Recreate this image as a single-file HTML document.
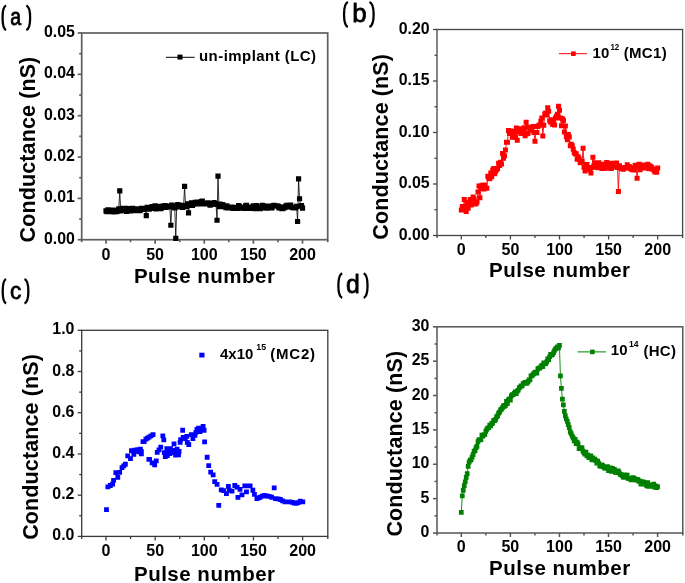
<!DOCTYPE html>
<html><head><meta charset="utf-8"><style>
html,body{margin:0;padding:0;background:#fff;}
body{width:685px;height:583px;overflow:hidden;}
svg{display:block;will-change:transform;}
text{font-family:"Liberation Sans", sans-serif;}
</style></head><body>
<svg width="685" height="583" viewBox="0 0 685 583" font-family='"Liberation Sans", sans-serif'>
<rect width="685" height="583" fill="#fff"/>
<path d="M6.10 5.50C1.37 7.39 1.37 28.11 6.10 30.00" fill="none" stroke="#000" stroke-width="2.3"/>
<text transform="translate(10.14,24.79) scale(0.803,1)" font-size="24.37" font-weight="normal" text-anchor="start" stroke="#000" stroke-width="0.75" stroke-linejoin="round" vector-effect="non-scaling-stroke">a</text>
<path d="M26.30 5.50C31.43 7.39 31.43 28.11 26.30 30.00" fill="none" stroke="#000" stroke-width="2.3"/>
<path d="M347.90 2.00C342.77 3.93 342.77 24.97 347.90 26.90" fill="none" stroke="#000" stroke-width="2.3"/>
<text transform="translate(352.21,21.57) scale(0.978,1)" font-size="26.49" font-weight="normal" text-anchor="start" stroke="#000" stroke-width="0.75" stroke-linejoin="round" vector-effect="non-scaling-stroke">b</text>
<path d="M369.40 2.00C375.07 3.93 375.07 24.97 369.40 26.90" fill="none" stroke="#000" stroke-width="2.3"/>
<path d="M6.10 279.00C1.57 280.89 1.57 301.61 6.10 303.50" fill="none" stroke="#000" stroke-width="2.3"/>
<text transform="translate(10.11,298.58) scale(0.914,1)" font-size="24.73" font-weight="normal" text-anchor="start" stroke="#000" stroke-width="0.75" stroke-linejoin="round" vector-effect="non-scaling-stroke">c</text>
<path d="M24.50 279.00C29.63 280.89 29.63 301.61 24.50 303.50" fill="none" stroke="#000" stroke-width="2.3"/>
<path d="M342.20 273.30C337.07 275.19 337.07 295.91 342.20 297.80" fill="none" stroke="#000" stroke-width="2.3"/>
<text transform="translate(345.93,292.87) scale(0.946,1)" font-size="26.21" font-weight="normal" text-anchor="start" stroke="#000" stroke-width="0.75" stroke-linejoin="round" vector-effect="non-scaling-stroke">d</text>
<path d="M363.70 273.30C368.83 275.19 368.83 295.91 363.70 297.80" fill="none" stroke="#000" stroke-width="2.3"/>
<g stroke="#5e5e5e" stroke-width="1.7" fill="none" stroke-linecap="butt">
<rect x="81.70" y="33.00" width="246.00" height="206.70"/>
<line x1="81.70" y1="239.70" x2="81.70" y2="242.20"/>
<line x1="106.00" y1="239.70" x2="106.00" y2="243.70"/>
<line x1="130.56" y1="239.70" x2="130.56" y2="242.20"/>
<line x1="155.12" y1="239.70" x2="155.12" y2="243.70"/>
<line x1="179.69" y1="239.70" x2="179.69" y2="242.20"/>
<line x1="204.25" y1="239.70" x2="204.25" y2="243.70"/>
<line x1="228.81" y1="239.70" x2="228.81" y2="242.20"/>
<line x1="253.38" y1="239.70" x2="253.38" y2="243.70"/>
<line x1="277.94" y1="239.70" x2="277.94" y2="242.20"/>
<line x1="302.50" y1="239.70" x2="302.50" y2="243.70"/>
<line x1="327.70" y1="239.70" x2="327.70" y2="242.20"/>
<line x1="81.70" y1="239.70" x2="77.70" y2="239.70"/>
<line x1="81.70" y1="198.36" x2="77.70" y2="198.36"/>
<line x1="81.70" y1="157.02" x2="77.70" y2="157.02"/>
<line x1="81.70" y1="115.68" x2="77.70" y2="115.68"/>
<line x1="81.70" y1="74.34" x2="77.70" y2="74.34"/>
<line x1="81.70" y1="33.00" x2="77.70" y2="33.00"/>
<line x1="81.70" y1="219.03" x2="79.20" y2="219.03"/>
<line x1="81.70" y1="177.69" x2="79.20" y2="177.69"/>
<line x1="81.70" y1="136.35" x2="79.20" y2="136.35"/>
<line x1="81.70" y1="95.01" x2="79.20" y2="95.01"/>
<line x1="81.70" y1="53.67" x2="79.20" y2="53.67"/>
</g>
<text transform="translate(106.00,259.50) scale(1.035,1.035)" font-size="15.5" font-weight="bold" text-anchor="middle">0</text>
<text transform="translate(155.12,259.50) scale(1.035,1.035)" font-size="15.5" font-weight="bold" text-anchor="middle">50</text>
<text transform="translate(204.25,259.50) scale(1.035,1.035)" font-size="15.5" font-weight="bold" text-anchor="middle">100</text>
<text transform="translate(253.38,259.50) scale(1.035,1.035)" font-size="15.5" font-weight="bold" text-anchor="middle">150</text>
<text transform="translate(302.50,259.50) scale(1.035,1.035)" font-size="15.5" font-weight="bold" text-anchor="middle">200</text>
<text transform="translate(74.80,243.70) scale(1.025,1.035)" font-size="15.5" font-weight="bold" text-anchor="end">0.00</text>
<text transform="translate(74.80,202.36) scale(1.025,1.035)" font-size="15.5" font-weight="bold" text-anchor="end">0.01</text>
<text transform="translate(74.80,161.02) scale(1.025,1.035)" font-size="15.5" font-weight="bold" text-anchor="end">0.02</text>
<text transform="translate(74.80,119.68) scale(1.025,1.035)" font-size="15.5" font-weight="bold" text-anchor="end">0.03</text>
<text transform="translate(74.80,78.34) scale(1.025,1.035)" font-size="15.5" font-weight="bold" text-anchor="end">0.04</text>
<text transform="translate(74.80,37.00) scale(1.025,1.035)" font-size="15.5" font-weight="bold" text-anchor="end">0.05</text>
<text transform="translate(204.70,283.20)" font-size="20.5" font-weight="bold" text-anchor="middle" letter-spacing="0.5">Pulse number</text>
<text transform="translate(34.70,149.50) rotate(-90) scale(1.05,1.08)" font-size="20.5" font-weight="bold" text-anchor="middle" letter-spacing="0.1">Conductance (nS)</text>
<g stroke="#444" stroke-width="1.3" fill="none" stroke-linecap="butt">
<rect x="437.00" y="29.50" width="245.60" height="206.00"/>
<line x1="437.00" y1="235.50" x2="437.00" y2="238.00"/>
<line x1="461.30" y1="235.50" x2="461.30" y2="239.50"/>
<line x1="485.85" y1="235.50" x2="485.85" y2="238.00"/>
<line x1="510.40" y1="235.50" x2="510.40" y2="239.50"/>
<line x1="534.95" y1="235.50" x2="534.95" y2="238.00"/>
<line x1="559.50" y1="235.50" x2="559.50" y2="239.50"/>
<line x1="584.05" y1="235.50" x2="584.05" y2="238.00"/>
<line x1="608.60" y1="235.50" x2="608.60" y2="239.50"/>
<line x1="633.15" y1="235.50" x2="633.15" y2="238.00"/>
<line x1="657.70" y1="235.50" x2="657.70" y2="239.50"/>
<line x1="682.60" y1="235.50" x2="682.60" y2="238.00"/>
<line x1="437.00" y1="235.50" x2="433.00" y2="235.50"/>
<line x1="437.00" y1="184.00" x2="433.00" y2="184.00"/>
<line x1="437.00" y1="132.50" x2="433.00" y2="132.50"/>
<line x1="437.00" y1="81.00" x2="433.00" y2="81.00"/>
<line x1="437.00" y1="29.50" x2="433.00" y2="29.50"/>
<line x1="437.00" y1="209.75" x2="434.50" y2="209.75"/>
<line x1="437.00" y1="158.25" x2="434.50" y2="158.25"/>
<line x1="437.00" y1="106.75" x2="434.50" y2="106.75"/>
<line x1="437.00" y1="55.25" x2="434.50" y2="55.25"/>
</g>
<text transform="translate(461.30,255.20) scale(1.035,1.035)" font-size="15.5" font-weight="bold" text-anchor="middle">0</text>
<text transform="translate(510.40,255.20) scale(1.035,1.035)" font-size="15.5" font-weight="bold" text-anchor="middle">50</text>
<text transform="translate(559.50,255.20) scale(1.035,1.035)" font-size="15.5" font-weight="bold" text-anchor="middle">100</text>
<text transform="translate(608.60,255.20) scale(1.035,1.035)" font-size="15.5" font-weight="bold" text-anchor="middle">150</text>
<text transform="translate(657.70,255.20) scale(1.035,1.035)" font-size="15.5" font-weight="bold" text-anchor="middle">200</text>
<text transform="translate(429.60,239.50) scale(1.025,1.035)" font-size="15.5" font-weight="bold" text-anchor="end">0.00</text>
<text transform="translate(429.60,188.00) scale(1.025,1.035)" font-size="15.5" font-weight="bold" text-anchor="end">0.05</text>
<text transform="translate(429.60,136.50) scale(1.025,1.035)" font-size="15.5" font-weight="bold" text-anchor="end">0.10</text>
<text transform="translate(429.60,85.00) scale(1.025,1.035)" font-size="15.5" font-weight="bold" text-anchor="end">0.15</text>
<text transform="translate(429.60,33.50) scale(1.025,1.035)" font-size="15.5" font-weight="bold" text-anchor="end">0.20</text>
<text transform="translate(559.80,276.60)" font-size="20.5" font-weight="bold" text-anchor="middle" letter-spacing="0.5">Pulse number</text>
<text transform="translate(387.60,146.80) rotate(-90) scale(1.05,1.08)" font-size="20.5" font-weight="bold" text-anchor="middle" letter-spacing="0.1">Conductance (nS)</text>
<g stroke="#3a3a3a" stroke-width="1.3" fill="none" stroke-linecap="butt">
<rect x="81.70" y="330.30" width="246.10" height="206.10"/>
<line x1="81.70" y1="536.40" x2="81.70" y2="538.90"/>
<line x1="106.00" y1="536.40" x2="106.00" y2="540.40"/>
<line x1="130.57" y1="536.40" x2="130.57" y2="538.90"/>
<line x1="155.15" y1="536.40" x2="155.15" y2="540.40"/>
<line x1="179.73" y1="536.40" x2="179.73" y2="538.90"/>
<line x1="204.30" y1="536.40" x2="204.30" y2="540.40"/>
<line x1="228.88" y1="536.40" x2="228.88" y2="538.90"/>
<line x1="253.45" y1="536.40" x2="253.45" y2="540.40"/>
<line x1="278.03" y1="536.40" x2="278.03" y2="538.90"/>
<line x1="302.60" y1="536.40" x2="302.60" y2="540.40"/>
<line x1="327.80" y1="536.40" x2="327.80" y2="538.90"/>
<line x1="81.70" y1="536.40" x2="77.70" y2="536.40"/>
<line x1="81.70" y1="495.18" x2="77.70" y2="495.18"/>
<line x1="81.70" y1="453.96" x2="77.70" y2="453.96"/>
<line x1="81.70" y1="412.74" x2="77.70" y2="412.74"/>
<line x1="81.70" y1="371.52" x2="77.70" y2="371.52"/>
<line x1="81.70" y1="330.30" x2="77.70" y2="330.30"/>
<line x1="81.70" y1="515.79" x2="79.20" y2="515.79"/>
<line x1="81.70" y1="474.57" x2="79.20" y2="474.57"/>
<line x1="81.70" y1="433.35" x2="79.20" y2="433.35"/>
<line x1="81.70" y1="392.13" x2="79.20" y2="392.13"/>
<line x1="81.70" y1="350.91" x2="79.20" y2="350.91"/>
</g>
<text transform="translate(106.00,555.60) scale(1.035,1.035)" font-size="15.5" font-weight="bold" text-anchor="middle">0</text>
<text transform="translate(155.15,555.60) scale(1.035,1.035)" font-size="15.5" font-weight="bold" text-anchor="middle">50</text>
<text transform="translate(204.30,555.60) scale(1.035,1.035)" font-size="15.5" font-weight="bold" text-anchor="middle">100</text>
<text transform="translate(253.45,555.60) scale(1.035,1.035)" font-size="15.5" font-weight="bold" text-anchor="middle">150</text>
<text transform="translate(302.60,555.60) scale(1.035,1.035)" font-size="15.5" font-weight="bold" text-anchor="middle">200</text>
<text transform="translate(74.40,540.40) scale(1.025,1.035)" font-size="15.5" font-weight="bold" text-anchor="end">0.0</text>
<text transform="translate(74.40,499.18) scale(1.025,1.035)" font-size="15.5" font-weight="bold" text-anchor="end">0.2</text>
<text transform="translate(74.40,457.96) scale(1.025,1.035)" font-size="15.5" font-weight="bold" text-anchor="end">0.4</text>
<text transform="translate(74.40,416.74) scale(1.025,1.035)" font-size="15.5" font-weight="bold" text-anchor="end">0.6</text>
<text transform="translate(74.40,375.52) scale(1.025,1.035)" font-size="15.5" font-weight="bold" text-anchor="end">0.8</text>
<text transform="translate(74.40,334.30) scale(1.025,1.035)" font-size="15.5" font-weight="bold" text-anchor="end">1.0</text>
<text transform="translate(204.75,581.00)" font-size="20.5" font-weight="bold" text-anchor="middle" letter-spacing="0.5">Pulse number</text>
<text transform="translate(37.50,446.90) rotate(-90) scale(1.05,1.08)" font-size="20.5" font-weight="bold" text-anchor="middle" letter-spacing="0.1">Conductance (nS)</text>
<g stroke="#555" stroke-width="1.5" fill="none" stroke-linecap="butt">
<rect x="437.00" y="326.80" width="245.80" height="206.20"/>
<line x1="437.00" y1="533.00" x2="437.00" y2="535.50"/>
<line x1="461.30" y1="533.00" x2="461.30" y2="537.00"/>
<line x1="485.84" y1="533.00" x2="485.84" y2="535.50"/>
<line x1="510.38" y1="533.00" x2="510.38" y2="537.00"/>
<line x1="534.91" y1="533.00" x2="534.91" y2="535.50"/>
<line x1="559.45" y1="533.00" x2="559.45" y2="537.00"/>
<line x1="583.99" y1="533.00" x2="583.99" y2="535.50"/>
<line x1="608.52" y1="533.00" x2="608.52" y2="537.00"/>
<line x1="633.06" y1="533.00" x2="633.06" y2="535.50"/>
<line x1="657.60" y1="533.00" x2="657.60" y2="537.00"/>
<line x1="682.80" y1="533.00" x2="682.80" y2="535.50"/>
<line x1="437.00" y1="533.00" x2="433.00" y2="533.00"/>
<line x1="437.00" y1="498.63" x2="433.00" y2="498.63"/>
<line x1="437.00" y1="464.27" x2="433.00" y2="464.27"/>
<line x1="437.00" y1="429.90" x2="433.00" y2="429.90"/>
<line x1="437.00" y1="395.53" x2="433.00" y2="395.53"/>
<line x1="437.00" y1="361.17" x2="433.00" y2="361.17"/>
<line x1="437.00" y1="326.80" x2="433.00" y2="326.80"/>
<line x1="437.00" y1="515.82" x2="434.50" y2="515.82"/>
<line x1="437.00" y1="481.45" x2="434.50" y2="481.45"/>
<line x1="437.00" y1="447.08" x2="434.50" y2="447.08"/>
<line x1="437.00" y1="412.72" x2="434.50" y2="412.72"/>
<line x1="437.00" y1="378.35" x2="434.50" y2="378.35"/>
<line x1="437.00" y1="343.98" x2="434.50" y2="343.98"/>
</g>
<text transform="translate(461.30,552.30) scale(1.035,1.035)" font-size="15.5" font-weight="bold" text-anchor="middle">0</text>
<text transform="translate(510.38,552.30) scale(1.035,1.035)" font-size="15.5" font-weight="bold" text-anchor="middle">50</text>
<text transform="translate(559.45,552.30) scale(1.035,1.035)" font-size="15.5" font-weight="bold" text-anchor="middle">100</text>
<text transform="translate(608.52,552.30) scale(1.035,1.035)" font-size="15.5" font-weight="bold" text-anchor="middle">150</text>
<text transform="translate(657.60,552.30) scale(1.035,1.035)" font-size="15.5" font-weight="bold" text-anchor="middle">200</text>
<text transform="translate(429.30,537.00) scale(1.025,1.035)" font-size="15.5" font-weight="bold" text-anchor="end">0</text>
<text transform="translate(429.30,502.63) scale(1.025,1.035)" font-size="15.5" font-weight="bold" text-anchor="end">5</text>
<text transform="translate(429.30,468.27) scale(1.025,1.035)" font-size="15.5" font-weight="bold" text-anchor="end">10</text>
<text transform="translate(429.30,433.90) scale(1.025,1.035)" font-size="15.5" font-weight="bold" text-anchor="end">15</text>
<text transform="translate(429.30,399.53) scale(1.025,1.035)" font-size="15.5" font-weight="bold" text-anchor="end">20</text>
<text transform="translate(429.30,365.17) scale(1.025,1.035)" font-size="15.5" font-weight="bold" text-anchor="end">25</text>
<text transform="translate(429.30,330.80) scale(1.025,1.035)" font-size="15.5" font-weight="bold" text-anchor="end">30</text>
<text transform="translate(559.90,575.30)" font-size="20.5" font-weight="bold" text-anchor="middle" letter-spacing="0.5">Pulse number</text>
<text transform="translate(402.40,443.70) rotate(-90) scale(1.05,1.08)" font-size="20.5" font-weight="bold" text-anchor="middle" letter-spacing="0.1">Conductance (nS)</text>
<polyline points="106.00,210.96 106.98,211.54 107.97,209.78 108.95,211.77 109.93,210.14 110.91,210.71 111.89,211.76 112.88,210.18 113.86,211.79 114.84,210.39 115.83,211.64 116.81,211.54 117.79,210.36 118.77,208.94 119.75,190.92 120.74,211.00 121.72,209.58 122.70,208.44 123.69,209.71 124.67,210.31 125.65,208.28 126.63,211.45 127.61,208.57 128.60,210.48 129.58,210.92 130.56,210.95 131.55,210.23 132.53,208.40 133.51,210.55 134.49,209.09 135.47,208.83 136.46,209.70 137.44,209.03 138.42,210.65 139.41,210.60 140.39,210.03 141.37,208.32 142.35,209.13 143.34,209.46 144.32,208.46 145.30,208.86 146.28,215.72 147.26,207.45 148.25,207.67 149.23,209.14 150.21,207.89 151.19,207.95 152.18,206.62 153.16,207.02 154.14,208.44 155.12,205.93 156.11,208.81 157.09,207.66 158.07,206.37 159.06,208.36 160.04,207.08 161.02,208.60 162.00,206.37 162.99,206.00 163.97,206.62 164.95,205.53 165.93,207.44 166.91,206.07 167.90,206.38 168.88,206.39 169.86,206.78 170.84,225.23 171.83,205.00 172.81,206.59 173.79,205.89 174.78,207.95 175.76,238.46 176.74,205.83 177.72,204.58 178.70,205.14 179.69,206.96 180.67,206.45 181.65,205.30 182.63,207.38 183.62,205.69 184.60,186.37 185.58,206.55 186.56,206.59 187.55,203.96 188.53,212.83 189.51,205.44 190.50,204.77 191.48,202.94 192.46,205.52 193.44,204.08 194.43,203.56 195.41,202.28 196.39,202.38 197.37,202.10 198.36,204.01 199.34,203.41 200.32,203.48 201.30,201.53 202.28,201.15 203.27,203.83 204.25,203.62 205.23,203.58 206.22,203.73 207.20,203.01 208.18,202.80 209.16,204.09 210.14,205.15 211.13,203.86 212.11,204.19 213.09,203.71 214.07,202.57 215.06,203.69 216.04,204.51 217.02,220.27 218.00,176.04 218.99,206.73 219.97,204.00 220.95,204.62 221.94,204.50 222.92,204.97 223.90,206.59 224.88,206.61 225.87,207.67 226.85,205.87 227.83,207.90 228.81,207.92 229.80,207.47 230.78,207.68 231.76,207.10 232.74,208.14 233.72,208.36 234.71,207.88 235.69,208.09 236.67,207.23 237.66,208.44 238.64,205.53 239.62,206.48 240.60,208.14 241.59,207.82 242.57,207.53 243.55,207.51 244.53,208.35 245.51,205.83 246.50,205.33 247.48,207.16 248.46,207.10 249.44,208.48 250.43,208.42 251.41,207.59 252.39,207.86 253.38,205.90 254.36,208.22 255.34,208.70 256.32,205.48 257.31,206.94 258.29,208.27 259.27,206.89 260.25,208.68 261.24,206.94 262.22,205.38 263.20,205.78 264.18,206.36 265.16,207.87 266.15,207.50 267.13,208.20 268.11,206.10 269.10,206.93 270.08,206.07 271.06,207.63 272.04,208.00 273.02,205.96 274.01,205.34 274.99,205.79 275.97,205.94 276.96,205.88 277.94,206.14 278.92,207.91 279.90,206.88 280.88,207.43 281.87,208.55 282.85,208.54 283.83,207.66 284.81,207.71 285.80,206.19 286.78,205.26 287.76,207.02 288.75,205.30 289.73,205.11 290.71,205.21 291.69,207.25 292.68,207.74 293.66,207.70 294.64,207.79 295.62,207.75 296.61,206.28 297.59,221.51 298.57,178.93 299.55,198.77 300.53,206.12 301.52,205.60 302.50,208.07" fill="none" stroke="#000" stroke-width="0.8"/>
<path fill="#000" d="M103.40 208.36h5.2v5.2h-5.2zM104.38 208.94h5.2v5.2h-5.2zM105.37 207.18h5.2v5.2h-5.2zM106.35 209.17h5.2v5.2h-5.2zM107.33 207.54h5.2v5.2h-5.2zM108.31 208.11h5.2v5.2h-5.2zM109.30 209.16h5.2v5.2h-5.2zM110.28 207.58h5.2v5.2h-5.2zM111.26 209.19h5.2v5.2h-5.2zM112.24 207.79h5.2v5.2h-5.2zM113.23 209.04h5.2v5.2h-5.2zM114.21 208.94h5.2v5.2h-5.2zM115.19 207.76h5.2v5.2h-5.2zM116.17 206.34h5.2v5.2h-5.2zM117.16 188.32h5.2v5.2h-5.2zM118.14 208.40h5.2v5.2h-5.2zM119.12 206.98h5.2v5.2h-5.2zM120.10 205.84h5.2v5.2h-5.2zM121.09 207.11h5.2v5.2h-5.2zM122.07 207.71h5.2v5.2h-5.2zM123.05 205.68h5.2v5.2h-5.2zM124.03 208.85h5.2v5.2h-5.2zM125.02 205.97h5.2v5.2h-5.2zM126.00 207.88h5.2v5.2h-5.2zM126.98 208.32h5.2v5.2h-5.2zM127.96 208.35h5.2v5.2h-5.2zM128.95 207.63h5.2v5.2h-5.2zM129.93 205.80h5.2v5.2h-5.2zM130.91 207.95h5.2v5.2h-5.2zM131.89 206.49h5.2v5.2h-5.2zM132.88 206.23h5.2v5.2h-5.2zM133.86 207.10h5.2v5.2h-5.2zM134.84 206.43h5.2v5.2h-5.2zM135.82 208.05h5.2v5.2h-5.2zM136.81 208.00h5.2v5.2h-5.2zM137.79 207.43h5.2v5.2h-5.2zM138.77 205.72h5.2v5.2h-5.2zM139.75 206.53h5.2v5.2h-5.2zM140.74 206.86h5.2v5.2h-5.2zM141.72 205.86h5.2v5.2h-5.2zM142.70 206.26h5.2v5.2h-5.2zM143.68 213.12h5.2v5.2h-5.2zM144.66 204.85h5.2v5.2h-5.2zM145.65 205.07h5.2v5.2h-5.2zM146.63 206.54h5.2v5.2h-5.2zM147.61 205.29h5.2v5.2h-5.2zM148.59 205.35h5.2v5.2h-5.2zM149.58 204.02h5.2v5.2h-5.2zM150.56 204.42h5.2v5.2h-5.2zM151.54 205.84h5.2v5.2h-5.2zM152.53 203.33h5.2v5.2h-5.2zM153.51 206.21h5.2v5.2h-5.2zM154.49 205.06h5.2v5.2h-5.2zM155.47 203.77h5.2v5.2h-5.2zM156.46 205.76h5.2v5.2h-5.2zM157.44 204.48h5.2v5.2h-5.2zM158.42 206.00h5.2v5.2h-5.2zM159.40 203.77h5.2v5.2h-5.2zM160.39 203.40h5.2v5.2h-5.2zM161.37 204.02h5.2v5.2h-5.2zM162.35 202.93h5.2v5.2h-5.2zM163.33 204.84h5.2v5.2h-5.2zM164.31 203.47h5.2v5.2h-5.2zM165.30 203.78h5.2v5.2h-5.2zM166.28 203.79h5.2v5.2h-5.2zM167.26 204.18h5.2v5.2h-5.2zM168.25 222.63h5.2v5.2h-5.2zM169.23 202.40h5.2v5.2h-5.2zM170.21 203.99h5.2v5.2h-5.2zM171.19 203.29h5.2v5.2h-5.2zM172.18 205.35h5.2v5.2h-5.2zM173.16 235.86h5.2v5.2h-5.2zM174.14 203.23h5.2v5.2h-5.2zM175.12 201.98h5.2v5.2h-5.2zM176.10 202.54h5.2v5.2h-5.2zM177.09 204.36h5.2v5.2h-5.2zM178.07 203.85h5.2v5.2h-5.2zM179.05 202.70h5.2v5.2h-5.2zM180.03 204.78h5.2v5.2h-5.2zM181.02 203.09h5.2v5.2h-5.2zM182.00 183.77h5.2v5.2h-5.2zM182.98 203.95h5.2v5.2h-5.2zM183.97 203.99h5.2v5.2h-5.2zM184.95 201.36h5.2v5.2h-5.2zM185.93 210.23h5.2v5.2h-5.2zM186.91 202.84h5.2v5.2h-5.2zM187.90 202.17h5.2v5.2h-5.2zM188.88 200.34h5.2v5.2h-5.2zM189.86 202.92h5.2v5.2h-5.2zM190.84 201.48h5.2v5.2h-5.2zM191.83 200.96h5.2v5.2h-5.2zM192.81 199.68h5.2v5.2h-5.2zM193.79 199.78h5.2v5.2h-5.2zM194.77 199.50h5.2v5.2h-5.2zM195.76 201.41h5.2v5.2h-5.2zM196.74 200.81h5.2v5.2h-5.2zM197.72 200.88h5.2v5.2h-5.2zM198.70 198.93h5.2v5.2h-5.2zM199.69 198.55h5.2v5.2h-5.2zM200.67 201.23h5.2v5.2h-5.2zM201.65 201.02h5.2v5.2h-5.2zM202.63 200.98h5.2v5.2h-5.2zM203.62 201.13h5.2v5.2h-5.2zM204.60 200.41h5.2v5.2h-5.2zM205.58 200.20h5.2v5.2h-5.2zM206.56 201.49h5.2v5.2h-5.2zM207.54 202.55h5.2v5.2h-5.2zM208.53 201.26h5.2v5.2h-5.2zM209.51 201.59h5.2v5.2h-5.2zM210.49 201.11h5.2v5.2h-5.2zM211.47 199.97h5.2v5.2h-5.2zM212.46 201.09h5.2v5.2h-5.2zM213.44 201.91h5.2v5.2h-5.2zM214.42 217.67h5.2v5.2h-5.2zM215.41 173.44h5.2v5.2h-5.2zM216.39 204.13h5.2v5.2h-5.2zM217.37 201.40h5.2v5.2h-5.2zM218.35 202.02h5.2v5.2h-5.2zM219.34 201.90h5.2v5.2h-5.2zM220.32 202.37h5.2v5.2h-5.2zM221.30 203.99h5.2v5.2h-5.2zM222.28 204.01h5.2v5.2h-5.2zM223.27 205.07h5.2v5.2h-5.2zM224.25 203.27h5.2v5.2h-5.2zM225.23 205.30h5.2v5.2h-5.2zM226.21 205.32h5.2v5.2h-5.2zM227.20 204.87h5.2v5.2h-5.2zM228.18 205.08h5.2v5.2h-5.2zM229.16 204.50h5.2v5.2h-5.2zM230.14 205.54h5.2v5.2h-5.2zM231.12 205.76h5.2v5.2h-5.2zM232.11 205.28h5.2v5.2h-5.2zM233.09 205.49h5.2v5.2h-5.2zM234.07 204.63h5.2v5.2h-5.2zM235.06 205.84h5.2v5.2h-5.2zM236.04 202.93h5.2v5.2h-5.2zM237.02 203.88h5.2v5.2h-5.2zM238.00 205.54h5.2v5.2h-5.2zM238.99 205.22h5.2v5.2h-5.2zM239.97 204.93h5.2v5.2h-5.2zM240.95 204.91h5.2v5.2h-5.2zM241.93 205.75h5.2v5.2h-5.2zM242.91 203.23h5.2v5.2h-5.2zM243.90 202.73h5.2v5.2h-5.2zM244.88 204.56h5.2v5.2h-5.2zM245.86 204.50h5.2v5.2h-5.2zM246.84 205.88h5.2v5.2h-5.2zM247.83 205.82h5.2v5.2h-5.2zM248.81 204.99h5.2v5.2h-5.2zM249.79 205.26h5.2v5.2h-5.2zM250.78 203.30h5.2v5.2h-5.2zM251.76 205.62h5.2v5.2h-5.2zM252.74 206.10h5.2v5.2h-5.2zM253.72 202.88h5.2v5.2h-5.2zM254.71 204.34h5.2v5.2h-5.2zM255.69 205.67h5.2v5.2h-5.2zM256.67 204.29h5.2v5.2h-5.2zM257.65 206.08h5.2v5.2h-5.2zM258.63 204.34h5.2v5.2h-5.2zM259.62 202.78h5.2v5.2h-5.2zM260.60 203.18h5.2v5.2h-5.2zM261.58 203.76h5.2v5.2h-5.2zM262.56 205.27h5.2v5.2h-5.2zM263.55 204.90h5.2v5.2h-5.2zM264.53 205.60h5.2v5.2h-5.2zM265.51 203.50h5.2v5.2h-5.2zM266.50 204.33h5.2v5.2h-5.2zM267.48 203.47h5.2v5.2h-5.2zM268.46 205.03h5.2v5.2h-5.2zM269.44 205.40h5.2v5.2h-5.2zM270.42 203.36h5.2v5.2h-5.2zM271.41 202.74h5.2v5.2h-5.2zM272.39 203.19h5.2v5.2h-5.2zM273.37 203.34h5.2v5.2h-5.2zM274.36 203.28h5.2v5.2h-5.2zM275.34 203.54h5.2v5.2h-5.2zM276.32 205.31h5.2v5.2h-5.2zM277.30 204.28h5.2v5.2h-5.2zM278.28 204.83h5.2v5.2h-5.2zM279.27 205.95h5.2v5.2h-5.2zM280.25 205.94h5.2v5.2h-5.2zM281.23 205.06h5.2v5.2h-5.2zM282.21 205.11h5.2v5.2h-5.2zM283.20 203.59h5.2v5.2h-5.2zM284.18 202.66h5.2v5.2h-5.2zM285.16 204.42h5.2v5.2h-5.2zM286.14 202.70h5.2v5.2h-5.2zM287.13 202.51h5.2v5.2h-5.2zM288.11 202.61h5.2v5.2h-5.2zM289.09 204.65h5.2v5.2h-5.2zM290.07 205.14h5.2v5.2h-5.2zM291.06 205.10h5.2v5.2h-5.2zM292.04 205.19h5.2v5.2h-5.2zM293.02 205.15h5.2v5.2h-5.2zM294.00 203.68h5.2v5.2h-5.2zM294.99 218.91h5.2v5.2h-5.2zM295.97 176.33h5.2v5.2h-5.2zM296.95 196.17h5.2v5.2h-5.2zM297.93 203.52h5.2v5.2h-5.2zM298.92 203.00h5.2v5.2h-5.2zM299.90 205.47h5.2v5.2h-5.2z"/>
<polyline points="461.30,209.99 462.28,206.39 463.26,207.07 464.25,199.45 465.23,208.97 466.21,211.59 467.19,203.90 468.17,208.30 469.16,202.22 470.14,199.40 471.12,205.04 472.10,204.10 473.08,197.04 474.07,198.67 475.05,204.07 476.03,203.68 477.01,201.96 477.99,191.98 478.98,186.06 479.96,197.69 480.94,188.54 481.92,185.15 482.90,187.16 483.89,188.99 484.87,185.10 485.85,188.18 486.83,188.27 487.81,176.19 488.80,178.60 489.78,178.75 490.76,172.91 491.74,176.72 492.72,169.90 493.71,168.56 494.69,173.68 495.67,171.36 496.65,169.45 497.63,168.61 498.62,163.24 499.60,165.51 500.58,162.26 501.56,163.97 502.54,153.60 503.53,158.36 504.51,155.63 505.49,150.10 506.47,142.34 507.45,142.20 508.44,130.60 509.42,133.51 510.40,131.09 511.38,131.19 512.36,137.22 513.35,132.19 514.33,135.26 515.31,137.40 516.29,127.90 517.27,140.23 518.26,131.79 519.24,128.78 520.22,130.80 521.20,133.45 522.18,131.04 523.17,130.50 524.15,127.66 525.13,135.66 526.11,122.20 527.09,133.75 528.08,133.31 529.06,127.29 530.04,130.35 531.02,130.05 532.00,128.02 532.99,126.54 533.97,132.49 534.95,141.25 535.93,132.43 536.91,132.50 537.90,126.59 538.88,125.29 539.86,124.89 540.84,121.17 541.82,117.95 542.81,136.00 543.79,125.29 544.77,114.08 545.75,112.93 546.73,115.05 547.72,107.78 548.70,111.19 549.68,120.87 550.66,122.34 551.64,119.80 552.63,124.47 553.61,122.72 554.59,124.98 555.57,118.12 556.55,116.23 557.54,114.37 558.52,106.13 559.50,110.36 560.48,117.88 561.46,125.78 562.45,118.66 563.43,120.39 564.41,132.07 565.39,126.06 566.37,136.81 567.36,139.86 568.34,134.54 569.32,137.11 570.30,145.81 571.28,144.28 572.27,145.79 573.25,149.27 574.23,152.53 575.21,154.04 576.19,153.70 577.18,159.36 578.16,156.86 579.14,158.64 580.12,162.71 581.10,161.94 582.09,161.30 583.07,148.26 584.05,167.30 585.03,171.02 586.01,164.59 587.00,164.41 587.98,169.83 588.96,168.48 589.94,169.67 590.92,172.98 591.91,167.56 592.89,157.22 593.87,165.97 594.85,162.75 595.83,163.36 596.82,167.05 597.80,167.77 598.78,162.70 599.76,164.99 600.74,164.14 601.73,168.17 602.71,168.38 603.69,164.22 604.67,165.95 605.65,168.28 606.64,162.57 607.62,164.57 608.60,163.47 609.58,168.26 610.56,163.21 611.55,168.47 612.53,163.27 613.51,166.02 614.49,166.83 615.47,165.47 616.46,163.06 617.44,167.45 618.42,191.62 619.40,165.85 620.38,167.80 621.37,168.70 622.35,168.41 623.33,169.20 624.31,168.25 625.29,167.57 626.28,167.67 627.26,164.73 628.24,167.87 629.22,166.54 630.20,168.72 631.19,167.65 632.17,169.87 633.15,168.39 634.13,169.99 635.11,165.31 636.10,166.57 637.08,178.23 638.06,167.17 639.04,164.19 640.02,169.70 641.01,165.06 641.99,167.66 642.97,167.30 643.95,165.11 644.93,168.07 645.92,167.37 646.90,166.23 647.88,164.34 648.86,168.76 649.84,165.74 650.83,166.78 651.81,167.45 652.79,169.18 653.77,169.76 654.75,171.90 655.74,171.61 656.72,172.20 657.70,167.99" fill="none" stroke="#ff0000" stroke-width="0.9"/>
<path fill="#ff0000" d="M458.80 207.49h5v5h-5zM459.78 203.89h5v5h-5zM460.76 204.57h5v5h-5zM461.75 196.95h5v5h-5zM462.73 206.47h5v5h-5zM463.71 209.09h5v5h-5zM464.69 201.40h5v5h-5zM465.67 205.80h5v5h-5zM466.66 199.72h5v5h-5zM467.64 196.90h5v5h-5zM468.62 202.54h5v5h-5zM469.60 201.60h5v5h-5zM470.58 194.54h5v5h-5zM471.57 196.17h5v5h-5zM472.55 201.57h5v5h-5zM473.53 201.18h5v5h-5zM474.51 199.46h5v5h-5zM475.49 189.48h5v5h-5zM476.48 183.56h5v5h-5zM477.46 195.19h5v5h-5zM478.44 186.04h5v5h-5zM479.42 182.65h5v5h-5zM480.40 184.66h5v5h-5zM481.39 186.49h5v5h-5zM482.37 182.60h5v5h-5zM483.35 185.68h5v5h-5zM484.33 185.77h5v5h-5zM485.31 173.69h5v5h-5zM486.30 176.10h5v5h-5zM487.28 176.25h5v5h-5zM488.26 170.41h5v5h-5zM489.24 174.22h5v5h-5zM490.22 167.40h5v5h-5zM491.21 166.06h5v5h-5zM492.19 171.18h5v5h-5zM493.17 168.86h5v5h-5zM494.15 166.95h5v5h-5zM495.13 166.11h5v5h-5zM496.12 160.74h5v5h-5zM497.10 163.01h5v5h-5zM498.08 159.76h5v5h-5zM499.06 161.47h5v5h-5zM500.04 151.10h5v5h-5zM501.03 155.86h5v5h-5zM502.01 153.13h5v5h-5zM502.99 147.60h5v5h-5zM503.97 139.84h5v5h-5zM504.95 139.70h5v5h-5zM505.94 128.10h5v5h-5zM506.92 131.01h5v5h-5zM507.90 128.59h5v5h-5zM508.88 128.69h5v5h-5zM509.86 134.72h5v5h-5zM510.85 129.69h5v5h-5zM511.83 132.76h5v5h-5zM512.81 134.90h5v5h-5zM513.79 125.40h5v5h-5zM514.77 137.73h5v5h-5zM515.76 129.29h5v5h-5zM516.74 126.28h5v5h-5zM517.72 128.30h5v5h-5zM518.70 130.95h5v5h-5zM519.68 128.54h5v5h-5zM520.67 128.00h5v5h-5zM521.65 125.16h5v5h-5zM522.63 133.16h5v5h-5zM523.61 119.70h5v5h-5zM524.59 131.25h5v5h-5zM525.58 130.81h5v5h-5zM526.56 124.79h5v5h-5zM527.54 127.85h5v5h-5zM528.52 127.55h5v5h-5zM529.50 125.52h5v5h-5zM530.49 124.04h5v5h-5zM531.47 129.99h5v5h-5zM532.45 138.75h5v5h-5zM533.43 129.93h5v5h-5zM534.41 130.00h5v5h-5zM535.40 124.09h5v5h-5zM536.38 122.79h5v5h-5zM537.36 122.39h5v5h-5zM538.34 118.67h5v5h-5zM539.32 115.45h5v5h-5zM540.31 133.50h5v5h-5zM541.29 122.79h5v5h-5zM542.27 111.58h5v5h-5zM543.25 110.43h5v5h-5zM544.23 112.55h5v5h-5zM545.22 105.28h5v5h-5zM546.20 108.69h5v5h-5zM547.18 118.37h5v5h-5zM548.16 119.84h5v5h-5zM549.14 117.30h5v5h-5zM550.13 121.97h5v5h-5zM551.11 120.22h5v5h-5zM552.09 122.48h5v5h-5zM553.07 115.62h5v5h-5zM554.05 113.73h5v5h-5zM555.04 111.87h5v5h-5zM556.02 103.63h5v5h-5zM557.00 107.86h5v5h-5zM557.98 115.38h5v5h-5zM558.96 123.28h5v5h-5zM559.95 116.16h5v5h-5zM560.93 117.89h5v5h-5zM561.91 129.57h5v5h-5zM562.89 123.56h5v5h-5zM563.87 134.31h5v5h-5zM564.86 137.36h5v5h-5zM565.84 132.04h5v5h-5zM566.82 134.61h5v5h-5zM567.80 143.31h5v5h-5zM568.78 141.78h5v5h-5zM569.77 143.29h5v5h-5zM570.75 146.77h5v5h-5zM571.73 150.03h5v5h-5zM572.71 151.54h5v5h-5zM573.69 151.20h5v5h-5zM574.68 156.86h5v5h-5zM575.66 154.36h5v5h-5zM576.64 156.14h5v5h-5zM577.62 160.21h5v5h-5zM578.60 159.44h5v5h-5zM579.59 158.80h5v5h-5zM580.57 145.76h5v5h-5zM581.55 164.80h5v5h-5zM582.53 168.52h5v5h-5zM583.51 162.09h5v5h-5zM584.50 161.91h5v5h-5zM585.48 167.33h5v5h-5zM586.46 165.98h5v5h-5zM587.44 167.17h5v5h-5zM588.42 170.48h5v5h-5zM589.41 165.06h5v5h-5zM590.39 154.72h5v5h-5zM591.37 163.47h5v5h-5zM592.35 160.25h5v5h-5zM593.33 160.86h5v5h-5zM594.32 164.55h5v5h-5zM595.30 165.27h5v5h-5zM596.28 160.20h5v5h-5zM597.26 162.49h5v5h-5zM598.24 161.64h5v5h-5zM599.23 165.67h5v5h-5zM600.21 165.88h5v5h-5zM601.19 161.72h5v5h-5zM602.17 163.45h5v5h-5zM603.15 165.78h5v5h-5zM604.14 160.07h5v5h-5zM605.12 162.07h5v5h-5zM606.10 160.97h5v5h-5zM607.08 165.76h5v5h-5zM608.06 160.71h5v5h-5zM609.05 165.97h5v5h-5zM610.03 160.77h5v5h-5zM611.01 163.52h5v5h-5zM611.99 164.33h5v5h-5zM612.97 162.97h5v5h-5zM613.96 160.56h5v5h-5zM614.94 164.95h5v5h-5zM615.92 189.12h5v5h-5zM616.90 163.35h5v5h-5zM617.88 165.30h5v5h-5zM618.87 166.20h5v5h-5zM619.85 165.91h5v5h-5zM620.83 166.70h5v5h-5zM621.81 165.75h5v5h-5zM622.79 165.07h5v5h-5zM623.78 165.17h5v5h-5zM624.76 162.23h5v5h-5zM625.74 165.37h5v5h-5zM626.72 164.04h5v5h-5zM627.70 166.22h5v5h-5zM628.69 165.15h5v5h-5zM629.67 167.37h5v5h-5zM630.65 165.89h5v5h-5zM631.63 167.49h5v5h-5zM632.61 162.81h5v5h-5zM633.60 164.07h5v5h-5zM634.58 175.73h5v5h-5zM635.56 164.67h5v5h-5zM636.54 161.69h5v5h-5zM637.52 167.20h5v5h-5zM638.51 162.56h5v5h-5zM639.49 165.16h5v5h-5zM640.47 164.80h5v5h-5zM641.45 162.61h5v5h-5zM642.43 165.57h5v5h-5zM643.42 164.87h5v5h-5zM644.40 163.73h5v5h-5zM645.38 161.84h5v5h-5zM646.36 166.26h5v5h-5zM647.34 163.24h5v5h-5zM648.33 164.28h5v5h-5zM649.31 164.95h5v5h-5zM650.29 166.68h5v5h-5zM651.27 167.26h5v5h-5zM652.25 169.40h5v5h-5zM653.24 169.11h5v5h-5zM654.22 169.70h5v5h-5zM655.20 165.49h5v5h-5z"/>
<path fill="#0000ff" d="M104.09 507.21h4.8v4.8h-4.8zM105.47 484.54h4.8v4.8h-4.8zM107.93 483.09h4.8v4.8h-4.8zM110.19 481.65h4.8v4.8h-4.8zM111.17 477.94h4.8v4.8h-4.8zM113.43 470.32h4.8v4.8h-4.8zM115.40 475.06h4.8v4.8h-4.8zM117.26 469.90h4.8v4.8h-4.8zM119.62 465.16h4.8v4.8h-4.8zM121.29 463.51h4.8v4.8h-4.8zM122.97 461.87h4.8v4.8h-4.8zM125.32 453.41h4.8v4.8h-4.8zM128.08 456.30h4.8v4.8h-4.8zM129.06 448.26h4.8v4.8h-4.8zM130.63 448.67h4.8v4.8h-4.8zM131.42 451.97h4.8v4.8h-4.8zM132.30 447.85h4.8v4.8h-4.8zM133.78 448.47h4.8v4.8h-4.8zM135.15 447.23h4.8v4.8h-4.8zM136.53 449.50h4.8v4.8h-4.8zM138.00 446.82h4.8v4.8h-4.8zM138.99 451.56h4.8v4.8h-4.8zM138.99 449.29h4.8v4.8h-4.8zM140.56 439.19h4.8v4.8h-4.8zM141.74 439.19h4.8v4.8h-4.8zM143.51 436.72h4.8v4.8h-4.8zM145.08 435.69h4.8v4.8h-4.8zM146.66 434.66h4.8v4.8h-4.8zM148.62 433.42h4.8v4.8h-4.8zM150.69 432.19h4.8v4.8h-4.8zM146.46 456.92h4.8v4.8h-4.8zM147.15 456.92h4.8v4.8h-4.8zM149.70 460.42h4.8v4.8h-4.8zM152.26 462.48h4.8v4.8h-4.8zM153.83 458.57h4.8v4.8h-4.8zM154.81 449.91h4.8v4.8h-4.8zM156.58 447.44h4.8v4.8h-4.8zM158.35 444.76h4.8v4.8h-4.8zM160.42 433.42h4.8v4.8h-4.8zM161.40 437.55h4.8v4.8h-4.8zM161.89 450.32h4.8v4.8h-4.8zM162.87 454.24h4.8v4.8h-4.8zM164.45 446.20h4.8v4.8h-4.8zM164.94 453.21h4.8v4.8h-4.8zM166.22 449.50h4.8v4.8h-4.8zM167.50 451.15h4.8v4.8h-4.8zM168.08 446.20h4.8v4.8h-4.8zM170.05 448.06h4.8v4.8h-4.8zM171.62 441.46h4.8v4.8h-4.8zM172.12 450.32h4.8v4.8h-4.8zM173.20 452.59h4.8v4.8h-4.8zM174.67 446.82h4.8v4.8h-4.8zM176.15 452.38h4.8v4.8h-4.8zM176.64 449.09h4.8v4.8h-4.8zM177.72 440.02h4.8v4.8h-4.8zM178.21 437.13h4.8v4.8h-4.8zM180.27 427.86h4.8v4.8h-4.8zM180.77 435.07h4.8v4.8h-4.8zM182.83 436.10h4.8v4.8h-4.8zM184.40 434.04h4.8v4.8h-4.8zM184.89 440.02h4.8v4.8h-4.8zM186.37 442.08h4.8v4.8h-4.8zM188.92 432.19h4.8v4.8h-4.8zM190.50 436.10h4.8v4.8h-4.8zM192.56 433.01h4.8v4.8h-4.8zM193.54 429.92h4.8v4.8h-4.8zM194.53 427.03h4.8v4.8h-4.8zM196.20 425.80h4.8v4.8h-4.8zM197.57 429.10h4.8v4.8h-4.8zM199.15 425.80h4.8v4.8h-4.8zM200.72 423.94h4.8v4.8h-4.8zM201.70 427.86h4.8v4.8h-4.8zM202.19 439.40h4.8v4.8h-4.8zM204.75 454.86h4.8v4.8h-4.8zM206.32 463.31h4.8v4.8h-4.8zM208.29 469.70h4.8v4.8h-4.8zM210.75 472.38h4.8v4.8h-4.8zM212.32 479.18h4.8v4.8h-4.8zM214.68 482.06h4.8v4.8h-4.8zM216.35 502.88h4.8v4.8h-4.8zM218.81 487.42h4.8v4.8h-4.8zM221.17 488.25h4.8v4.8h-4.8zM224.02 491.13h4.8v4.8h-4.8zM225.98 483.92h4.8v4.8h-4.8zM226.77 487.83h4.8v4.8h-4.8zM229.62 488.66h4.8v4.8h-4.8zM232.37 483.09h4.8v4.8h-4.8zM234.73 484.74h4.8v4.8h-4.8zM235.52 495.05h4.8v4.8h-4.8zM237.58 487.01h4.8v4.8h-4.8zM239.55 492.57h4.8v4.8h-4.8zM242.40 483.51h4.8v4.8h-4.8zM244.07 489.48h4.8v4.8h-4.8zM245.64 483.51h4.8v4.8h-4.8zM247.71 483.51h4.8v4.8h-4.8zM250.46 487.83h4.8v4.8h-4.8zM252.03 491.96h4.8v4.8h-4.8zM254.49 496.28h4.8v4.8h-4.8zM256.46 495.46h4.8v4.8h-4.8zM257.83 494.63h4.8v4.8h-4.8zM259.90 493.81h4.8v4.8h-4.8zM261.86 492.99h4.8v4.8h-4.8zM264.32 493.60h4.8v4.8h-4.8zM266.68 494.02h4.8v4.8h-4.8zM269.24 494.84h4.8v4.8h-4.8zM271.79 485.57h4.8v4.8h-4.8zM273.07 496.28h4.8v4.8h-4.8zM275.63 496.49h4.8v4.8h-4.8zM277.89 497.11h4.8v4.8h-4.8zM280.25 498.55h4.8v4.8h-4.8zM282.60 499.38h4.8v4.8h-4.8zM284.96 499.38h4.8v4.8h-4.8zM287.42 499.38h4.8v4.8h-4.8zM289.88 499.99h4.8v4.8h-4.8zM291.84 500.61h4.8v4.8h-4.8zM293.81 501.02h4.8v4.8h-4.8zM295.78 500.20h4.8v4.8h-4.8zM297.84 498.76h4.8v4.8h-4.8zM299.22 499.38h4.8v4.8h-4.8zM300.40 499.38h4.8v4.8h-4.8z"/>
<polyline points="461.30,512.38 462.28,495.88 463.26,490.39 464.24,485.57 465.23,481.77 466.21,477.34 467.19,473.54 468.17,466.30 469.15,462.05 470.13,460.40 471.12,459.53 472.10,457.22 473.08,454.54 474.06,451.37 475.04,450.70 476.02,447.58 477.00,446.41 477.99,441.60 478.97,439.64 479.95,439.86 480.93,439.58 481.91,435.08 482.89,436.26 483.87,434.54 484.86,434.48 485.84,431.38 486.82,429.47 487.80,427.83 488.78,427.77 489.76,425.21 490.75,425.96 491.73,423.59 492.71,423.00 493.69,420.42 494.67,420.59 495.65,419.36 496.63,416.89 497.62,415.88 498.60,413.16 499.58,412.12 500.56,409.94 501.54,409.05 502.52,407.54 503.50,405.60 504.49,406.35 505.47,405.34 506.45,401.36 507.43,403.54 508.41,399.90 509.39,398.96 510.38,400.16 511.36,395.90 512.34,394.66 513.32,394.74 514.30,393.30 515.28,391.97 516.26,393.74 517.25,391.15 518.23,390.23 519.21,387.86 520.19,386.98 521.17,385.89 522.15,385.88 523.13,383.60 524.12,383.46 525.10,382.42 526.08,383.32 527.06,383.14 528.04,381.71 529.02,379.77 530.00,379.82 530.99,375.80 531.97,375.94 532.95,374.65 533.93,373.65 534.91,372.42 535.89,372.21 536.88,373.18 537.86,368.87 538.84,368.05 539.82,368.03 540.80,366.86 541.78,365.32 542.76,366.74 543.75,362.94 544.73,363.91 545.71,363.61 546.69,361.79 547.67,358.85 548.65,359.98 549.63,356.74 550.62,354.47 551.60,355.16 552.58,354.32 553.56,352.62 554.54,350.48 555.52,348.84 556.51,348.16 557.49,346.75 558.47,347.79 559.45,345.44 560.43,375.93 561.41,388.34 562.39,399.09 563.38,404.88 564.36,411.29 565.34,415.90 566.32,419.01 567.30,421.31 568.28,424.71 569.26,427.53 570.25,431.86 571.23,433.68 572.21,436.19 573.19,437.79 574.17,440.84 575.15,439.25 576.14,443.73 577.12,442.13 578.10,443.91 579.08,448.73 580.06,447.94 581.04,447.48 582.02,447.90 583.01,451.07 583.99,452.85 584.97,454.12 585.95,452.12 586.93,455.91 587.91,455.13 588.89,457.70 589.88,456.88 590.86,455.87 591.84,460.01 592.82,457.93 593.80,459.97 594.78,459.17 595.77,460.68 596.75,463.19 597.73,461.00 598.71,463.26 599.69,465.73 600.67,466.38 601.65,464.93 602.64,465.66 603.62,466.83 604.60,468.06 605.58,467.78 606.56,468.46 607.54,466.71 608.52,470.58 609.51,467.91 610.49,467.95 611.47,471.33 612.45,468.42 613.43,469.71 614.41,469.35 615.40,472.28 616.38,472.35 617.36,472.76 618.34,470.75 619.32,472.93 620.30,474.37 621.28,474.58 622.27,475.70 623.25,477.13 624.23,477.33 625.21,474.73 626.19,477.42 627.17,475.16 628.15,478.41 629.14,478.77 630.12,478.18 631.10,479.93 632.08,479.59 633.06,477.61 634.04,478.33 635.03,479.05 636.01,480.22 636.99,479.37 637.97,479.56 638.95,481.49 639.93,481.09 640.91,484.17 641.90,481.66 642.88,483.13 643.86,482.20 644.84,482.95 645.82,484.74 646.80,486.02 647.79,482.71 648.77,486.32 649.75,485.21 650.73,485.97 651.71,486.39 652.69,484.80 653.67,484.06 654.66,487.24 655.64,485.84 656.62,487.54 657.60,486.71" fill="none" stroke="#008000" stroke-width="0.9"/>
<path fill="#008000" d="M458.95 510.03h4.7v4.7h-4.7zM459.93 493.53h4.7v4.7h-4.7zM460.91 488.04h4.7v4.7h-4.7zM461.89 483.22h4.7v4.7h-4.7zM462.88 479.42h4.7v4.7h-4.7zM463.86 474.99h4.7v4.7h-4.7zM464.84 471.19h4.7v4.7h-4.7zM465.82 463.95h4.7v4.7h-4.7zM466.80 459.70h4.7v4.7h-4.7zM467.78 458.05h4.7v4.7h-4.7zM468.76 457.18h4.7v4.7h-4.7zM469.75 454.87h4.7v4.7h-4.7zM470.73 452.19h4.7v4.7h-4.7zM471.71 449.02h4.7v4.7h-4.7zM472.69 448.35h4.7v4.7h-4.7zM473.67 445.23h4.7v4.7h-4.7zM474.65 444.06h4.7v4.7h-4.7zM475.64 439.25h4.7v4.7h-4.7zM476.62 437.29h4.7v4.7h-4.7zM477.60 437.51h4.7v4.7h-4.7zM478.58 437.23h4.7v4.7h-4.7zM479.56 432.73h4.7v4.7h-4.7zM480.54 433.91h4.7v4.7h-4.7zM481.52 432.19h4.7v4.7h-4.7zM482.51 432.13h4.7v4.7h-4.7zM483.49 429.03h4.7v4.7h-4.7zM484.47 427.12h4.7v4.7h-4.7zM485.45 425.48h4.7v4.7h-4.7zM486.43 425.42h4.7v4.7h-4.7zM487.41 422.86h4.7v4.7h-4.7zM488.39 423.61h4.7v4.7h-4.7zM489.38 421.24h4.7v4.7h-4.7zM490.36 420.65h4.7v4.7h-4.7zM491.34 418.07h4.7v4.7h-4.7zM492.32 418.24h4.7v4.7h-4.7zM493.30 417.01h4.7v4.7h-4.7zM494.28 414.54h4.7v4.7h-4.7zM495.27 413.53h4.7v4.7h-4.7zM496.25 410.81h4.7v4.7h-4.7zM497.23 409.77h4.7v4.7h-4.7zM498.21 407.59h4.7v4.7h-4.7zM499.19 406.70h4.7v4.7h-4.7zM500.17 405.19h4.7v4.7h-4.7zM501.15 403.25h4.7v4.7h-4.7zM502.14 404.00h4.7v4.7h-4.7zM503.12 402.99h4.7v4.7h-4.7zM504.10 399.01h4.7v4.7h-4.7zM505.08 401.19h4.7v4.7h-4.7zM506.06 397.55h4.7v4.7h-4.7zM507.04 396.61h4.7v4.7h-4.7zM508.02 397.81h4.7v4.7h-4.7zM509.01 393.55h4.7v4.7h-4.7zM509.99 392.31h4.7v4.7h-4.7zM510.97 392.39h4.7v4.7h-4.7zM511.95 390.95h4.7v4.7h-4.7zM512.93 389.62h4.7v4.7h-4.7zM513.91 391.39h4.7v4.7h-4.7zM514.90 388.80h4.7v4.7h-4.7zM515.88 387.88h4.7v4.7h-4.7zM516.86 385.51h4.7v4.7h-4.7zM517.84 384.63h4.7v4.7h-4.7zM518.82 383.54h4.7v4.7h-4.7zM519.80 383.53h4.7v4.7h-4.7zM520.78 381.25h4.7v4.7h-4.7zM521.77 381.11h4.7v4.7h-4.7zM522.75 380.07h4.7v4.7h-4.7zM523.73 380.97h4.7v4.7h-4.7zM524.71 380.79h4.7v4.7h-4.7zM525.69 379.36h4.7v4.7h-4.7zM526.67 377.42h4.7v4.7h-4.7zM527.65 377.47h4.7v4.7h-4.7zM528.64 373.45h4.7v4.7h-4.7zM529.62 373.59h4.7v4.7h-4.7zM530.60 372.30h4.7v4.7h-4.7zM531.58 371.30h4.7v4.7h-4.7zM532.56 370.07h4.7v4.7h-4.7zM533.54 369.86h4.7v4.7h-4.7zM534.53 370.83h4.7v4.7h-4.7zM535.51 366.52h4.7v4.7h-4.7zM536.49 365.70h4.7v4.7h-4.7zM537.47 365.68h4.7v4.7h-4.7zM538.45 364.51h4.7v4.7h-4.7zM539.43 362.97h4.7v4.7h-4.7zM540.41 364.39h4.7v4.7h-4.7zM541.40 360.59h4.7v4.7h-4.7zM542.38 361.56h4.7v4.7h-4.7zM543.36 361.26h4.7v4.7h-4.7zM544.34 359.44h4.7v4.7h-4.7zM545.32 356.50h4.7v4.7h-4.7zM546.30 357.63h4.7v4.7h-4.7zM547.28 354.39h4.7v4.7h-4.7zM548.27 352.12h4.7v4.7h-4.7zM549.25 352.81h4.7v4.7h-4.7zM550.23 351.97h4.7v4.7h-4.7zM551.21 350.27h4.7v4.7h-4.7zM552.19 348.13h4.7v4.7h-4.7zM553.17 346.49h4.7v4.7h-4.7zM554.16 345.81h4.7v4.7h-4.7zM555.14 344.40h4.7v4.7h-4.7zM556.12 345.44h4.7v4.7h-4.7zM557.10 343.09h4.7v4.7h-4.7zM558.08 373.58h4.7v4.7h-4.7zM559.06 385.99h4.7v4.7h-4.7zM560.04 396.74h4.7v4.7h-4.7zM561.03 402.53h4.7v4.7h-4.7zM562.01 408.94h4.7v4.7h-4.7zM562.99 413.55h4.7v4.7h-4.7zM563.97 416.66h4.7v4.7h-4.7zM564.95 418.96h4.7v4.7h-4.7zM565.93 422.36h4.7v4.7h-4.7zM566.91 425.18h4.7v4.7h-4.7zM567.90 429.51h4.7v4.7h-4.7zM568.88 431.33h4.7v4.7h-4.7zM569.86 433.84h4.7v4.7h-4.7zM570.84 435.44h4.7v4.7h-4.7zM571.82 438.49h4.7v4.7h-4.7zM572.80 436.90h4.7v4.7h-4.7zM573.79 441.38h4.7v4.7h-4.7zM574.77 439.78h4.7v4.7h-4.7zM575.75 441.56h4.7v4.7h-4.7zM576.73 446.38h4.7v4.7h-4.7zM577.71 445.59h4.7v4.7h-4.7zM578.69 445.13h4.7v4.7h-4.7zM579.67 445.55h4.7v4.7h-4.7zM580.66 448.72h4.7v4.7h-4.7zM581.64 450.50h4.7v4.7h-4.7zM582.62 451.77h4.7v4.7h-4.7zM583.60 449.77h4.7v4.7h-4.7zM584.58 453.56h4.7v4.7h-4.7zM585.56 452.78h4.7v4.7h-4.7zM586.54 455.35h4.7v4.7h-4.7zM587.53 454.53h4.7v4.7h-4.7zM588.51 453.52h4.7v4.7h-4.7zM589.49 457.66h4.7v4.7h-4.7zM590.47 455.58h4.7v4.7h-4.7zM591.45 457.62h4.7v4.7h-4.7zM592.43 456.82h4.7v4.7h-4.7zM593.42 458.33h4.7v4.7h-4.7zM594.40 460.84h4.7v4.7h-4.7zM595.38 458.65h4.7v4.7h-4.7zM596.36 460.91h4.7v4.7h-4.7zM597.34 463.38h4.7v4.7h-4.7zM598.32 464.03h4.7v4.7h-4.7zM599.30 462.58h4.7v4.7h-4.7zM600.29 463.31h4.7v4.7h-4.7zM601.27 464.48h4.7v4.7h-4.7zM602.25 465.71h4.7v4.7h-4.7zM603.23 465.43h4.7v4.7h-4.7zM604.21 466.11h4.7v4.7h-4.7zM605.19 464.36h4.7v4.7h-4.7zM606.17 468.23h4.7v4.7h-4.7zM607.16 465.56h4.7v4.7h-4.7zM608.14 465.60h4.7v4.7h-4.7zM609.12 468.98h4.7v4.7h-4.7zM610.10 466.07h4.7v4.7h-4.7zM611.08 467.36h4.7v4.7h-4.7zM612.06 467.00h4.7v4.7h-4.7zM613.05 469.93h4.7v4.7h-4.7zM614.03 470.00h4.7v4.7h-4.7zM615.01 470.41h4.7v4.7h-4.7zM615.99 468.40h4.7v4.7h-4.7zM616.97 470.58h4.7v4.7h-4.7zM617.95 472.02h4.7v4.7h-4.7zM618.93 472.23h4.7v4.7h-4.7zM619.92 473.35h4.7v4.7h-4.7zM620.90 474.78h4.7v4.7h-4.7zM621.88 474.98h4.7v4.7h-4.7zM622.86 472.38h4.7v4.7h-4.7zM623.84 475.07h4.7v4.7h-4.7zM624.82 472.81h4.7v4.7h-4.7zM625.80 476.06h4.7v4.7h-4.7zM626.79 476.42h4.7v4.7h-4.7zM627.77 475.83h4.7v4.7h-4.7zM628.75 477.58h4.7v4.7h-4.7zM629.73 477.24h4.7v4.7h-4.7zM630.71 475.26h4.7v4.7h-4.7zM631.69 475.98h4.7v4.7h-4.7zM632.68 476.70h4.7v4.7h-4.7zM633.66 477.87h4.7v4.7h-4.7zM634.64 477.02h4.7v4.7h-4.7zM635.62 477.21h4.7v4.7h-4.7zM636.60 479.14h4.7v4.7h-4.7zM637.58 478.74h4.7v4.7h-4.7zM638.56 481.82h4.7v4.7h-4.7zM639.55 479.31h4.7v4.7h-4.7zM640.53 480.78h4.7v4.7h-4.7zM641.51 479.85h4.7v4.7h-4.7zM642.49 480.60h4.7v4.7h-4.7zM643.47 482.39h4.7v4.7h-4.7zM644.45 483.67h4.7v4.7h-4.7zM645.44 480.36h4.7v4.7h-4.7zM646.42 483.97h4.7v4.7h-4.7zM647.40 482.86h4.7v4.7h-4.7zM648.38 483.62h4.7v4.7h-4.7zM649.36 484.04h4.7v4.7h-4.7zM650.34 482.45h4.7v4.7h-4.7zM651.32 481.71h4.7v4.7h-4.7zM652.31 484.89h4.7v4.7h-4.7zM653.29 483.49h4.7v4.7h-4.7zM654.27 485.19h4.7v4.7h-4.7zM655.25 484.36h4.7v4.7h-4.7z"/>
<line x1="166" y1="57.3" x2="194.7" y2="57.3" stroke="#000" stroke-width="1"/>
<rect x="177.5" y="54.6" width="5" height="5" fill="#000"/>
<text transform="translate(199.00,60.60) scale(1,0.96)" font-size="15" font-weight="bold" text-anchor="start" letter-spacing="0.45">un-implant (LC)</text>
<line x1="558.8" y1="53.7" x2="587.1" y2="53.7" stroke="#ff0000" stroke-width="1"/>
<rect x="571.1" y="51.4" width="4.6" height="4.6" fill="#ff0000"/>
<text transform="translate(592.60,57.60) scale(1,0.96)" font-size="15" font-weight="bold" text-anchor="start">10</text>
<text transform="translate(610.40,49.90) scale(0.8,0.98)" font-size="10" font-weight="bold" text-anchor="start">12</text>
<text transform="translate(623.80,57.60) scale(1,0.96)" font-size="15" font-weight="bold" text-anchor="start" letter-spacing="0.3">(MC1)</text>
<rect x="199.3" y="352.7" width="5.2" height="4.8" fill="#0000ff"/>
<text transform="translate(220.00,359.10) scale(1,0.96)" font-size="15" font-weight="bold" text-anchor="start">4x10</text>
<text transform="translate(256.30,350.20) scale(0.88,0.98)" font-size="10" font-weight="bold" text-anchor="start">15</text>
<text transform="translate(270.20,359.10) scale(1,0.96)" font-size="15" font-weight="bold" text-anchor="start" letter-spacing="0.8">(MC2)</text>
<line x1="577.5" y1="351.9" x2="605.9" y2="351.9" stroke="#008000" stroke-width="1"/>
<rect x="590.1" y="349.6" width="4.6" height="4.6" fill="#008000"/>
<text transform="translate(610.80,354.90) scale(1,0.96)" font-size="15" font-weight="bold" text-anchor="start">10</text>
<text transform="translate(629.10,347.20) scale(0.86,0.98)" font-size="10" font-weight="bold" text-anchor="start">14</text>
<text transform="translate(643.40,355.70) scale(1,0.96)" font-size="15" font-weight="bold" text-anchor="start" letter-spacing="0.3">(HC)</text>
</svg>
</body></html>
